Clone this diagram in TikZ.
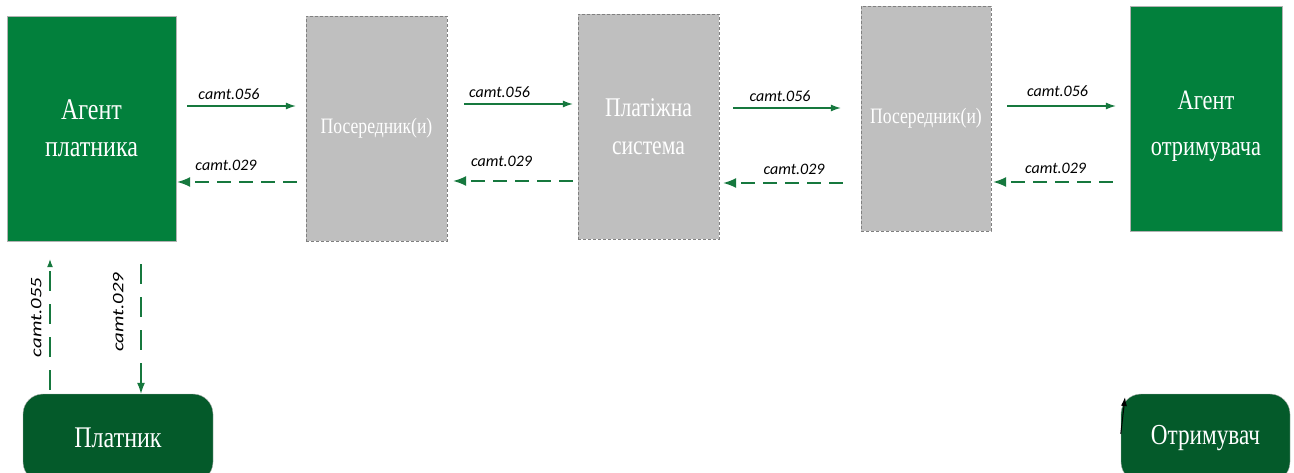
\documentclass[tikz,border=0pt]{standalone}
\usepackage{fontspec}
\setmainfont{Liberation Serif}
\newfontfamily\boxfont[FakeStretch=0.8]{Liberation Serif}
\newfontfamily\msgfont{Carlito}
\usetikzlibrary{arrows.meta}
\definecolor{agentgreen}{RGB}{2,128,60}
\definecolor{clientgreen}{RGB}{4,90,42}
\definecolor{midgray}{RGB}{191,191,191}
\definecolor{msggreen}{RGB}{22,120,62}

\begin{document}
\begin{tikzpicture}[x=1pt,y=-1pt,
        agent/.style={draw=gray!60,fill=agentgreen,text=white,align=center,inner sep=0pt,minimum height=225pt},
        middle/.style={draw=gray,densely dashed,line width=0.4pt,fill=midgray,text=white,align=center,inner sep=0pt,minimum height=225pt},
        client/.style={draw=gray!60,fill=clientgreen,text=white,rounded corners=20pt,inner sep=0pt,minimum height=88pt},
        send/.style={msggreen,line width=1.1pt,-{Latex[length=10pt,width=7pt]}},
        back/.style={msggreen,line width=1.4pt,dash pattern=on 14pt off 8pt,-{Latex[length=13pt,width=10pt]}},
        msg/.style={font=\msgfont\itshape\fontsize{16}{18}\selectfont,text=black,inner sep=0pt}]
                \useasboundingbox (0,0) rectangle (1294,473);
                % boxes of the chain
                \node[agent,minimum width=169pt,font=\boxfont\fontsize{30}{37}\selectfont] (payagent) at (91.5,128.5) {Агент\\платника};
                \node[middle,minimum width=141pt,font=\boxfont\fontsize{22}{26}\selectfont] (inter1) at (376.5,128.5) {Посередник(и)};
                \node[middle,minimum width=141pt,font=\boxfont\fontsize{27}{38}\selectfont] (paysys) at (648.5,126.5) {Платіжна\\система};
                \node[middle,minimum width=130pt,font=\boxfont\fontsize{22}{26}\selectfont] (inter2) at (926,118.5) {Посередник(и)};
                \node[agent,minimum width=152pt,font=\boxfont\fontsize{28}{46}\selectfont] (recagent) at (1206,118.5) {\rule{0pt}{35pt}Агент\\отримувача};
                \node[client,minimum width=190pt,font=\boxfont\fontsize{30}{36}\selectfont] (payer) at (118,438) {Платник};
                \node[client,minimum width=169pt,font=\boxfont\fontsize{29}{34}\selectfont] (receiver) at (1205.5,438) {Отримувач};
                % camt.056 forward, camt.029 back
                \draw[send,shorten <=11pt,shorten >=10pt] (payagent.east |- 0,106) -- node[msg,above=6pt,xshift=-12pt]{camt.056} (inter1.west |- 0,106);
                \draw[back,shorten <=9pt,shorten >=1pt] (inter1.west |- 0,182) -- node[msg,above=11pt,xshift=-15pt]{camt.029} (payagent.east |- 0,182);
                \draw[send,shorten <=17pt,shorten >=5pt] (inter1.east |- 0,104) -- node[msg,above=6pt,xshift=-13pt]{camt.056} (paysys.west |- 0,104);
                \draw[back,shorten <=5pt,shorten >=6pt] (paysys.west |- 0,181) -- node[msg,above=14pt,xshift=-11pt]{camt.029} (inter1.east |- 0,181);
                \draw[send,shorten <=14pt,shorten >=20pt] (paysys.east |- 0,108) -- node[msg,above=6pt,xshift=-10pt]{camt.056} (inter2.west |- 0,108);
                \draw[back,shorten <=18pt,shorten >=4pt] (inter2.west |- 0,183) -- node[msg,above=8pt,xshift=4pt]{camt.029} (paysys.east |- 0,183);
                \draw[send,shorten <=16pt,shorten >=14pt] (inter2.east |- 0,106) -- node[msg,above=9pt,xshift=-3pt]{camt.056} (recagent.west |- 0,106);
                \draw[back,shorten <=17pt,shorten >=2pt] (recagent.west |- 0,182) -- node[msg,above=8pt,xshift=-5pt]{camt.029} (inter2.east |- 0,182);
                % payer and its agent
                \draw[msggreen,line width=1.1pt,dash pattern=on 20pt off 13pt,-{Latex[length=8pt,width=6pt]},shorten <=4pt,shorten >=18pt] (payer.north -| 50,0) -- node[msg,rotate=90,xscale=1.3,anchor=south,yshift=8pt]{camt.055} (payagent.south -| 50,0);
                \draw[msggreen,line width=1.1pt,dash pattern=on 20pt off 13pt,-{Latex[length=11pt,width=8pt]},shorten <=23pt] (payagent.south -| 141,0) -- node[msg,rotate=90,xscale=1.3,anchor=south,xshift=4pt,yshift=17pt]{camt.029} (payer.north -| 141,0);
                % small arrow on the receiver
                \coordinate (rectip) at (1125,397);
                \draw[black,line width=1pt,-{Latex[length=9pt,width=6pt]}] (receiver.west |- 0,434) -- (rectip);
\end{tikzpicture}
\end{document}
